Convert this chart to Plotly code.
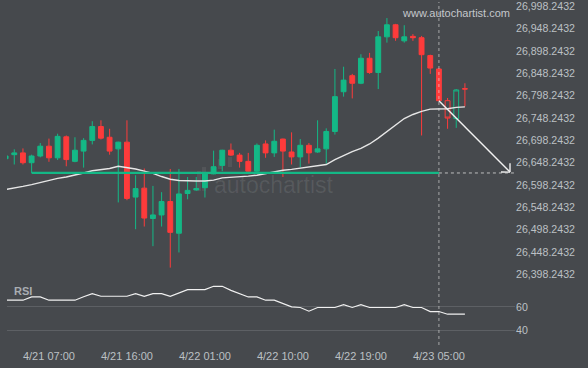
import math
import plotly.graph_objects as go

# ---------------- data (hourly candles, index 0 = 4/21 02:00) ----------------
opens = [26657, 26666, 26670, 26648, 26663, 26685, 26659, 26706, 26651, 26674,
         26698, 26729, 26705, 26679, 26694, 26571, 26591, 26523, 26531, 26561,
         26490, 26579, 26587, 26592, 26623, 26642, 26676, 26665, 26651, 26629,
         26690, 26670, 26701, 26672, 26661, 26687, 26672, 26679, 26718, 26807,
         26843, 26826, 26882, 26850, 26930, 26957, 26921, 26931, 26928, 26888,
         26858]
highs = [26664, 26678, 26680, 26666, 26692, 26702, 26713, 26709, 26705, 26703,
         26741, 26743, 26724, 26695, 26743, 26620, 26635, 26596, 26582, 26634,
         26634, 26616, 26616, 26626, 26675, 26677, 26691, 26670, 26670, 26691,
         26698, 26722, 26702, 26716, 26701, 26692, 26743, 26725, 26858, 26863,
         26847, 26891, 26894, 26943, 26972, 26959, 26956, 26936, 26932, 26890,
         26859]
lows = [26656, 26644, 26644, 26625, 26660, 26650, 26654, 26640, 26649, 26637,
        26689, 26700, 26666, 26559, 26564, 26499, 26505, 26461, 26505, 26413,
        26447, 26566, 26585, 26570, 26622, 26629, 26663, 26637, 26628, 26625,
        26659, 26661, 26616, 26644, 26638, 26646, 26670, 26646, 26711, 26796,
        26792, 26824, 26847, 26813, 26917, 26921, 26917, 26921, 26709, 26847,
        26786]
closes = [26663, 26670, 26648, 26663, 26685, 26659, 26707, 26655, 26676, 26698,
          26729, 26703, 26674, 26694, 26568, 26590, 26524, 26531, 26561, 26492,
          26578, 26586, 26590, 26625, 26639, 26676, 26665, 26651, 26629, 26687,
          26670, 26696, 26674, 26661, 26687, 26670, 26679, 26718, 26796, 26833,
          26826, 26882, 26850, 26930, 26957, 26928, 26930, 26928, 26890, 26860,
          26787]

# candles after the pattern end (drawn hollow)
post_opens = [26787, 26747, 26814]
post_highs = [26793, 26813, 26826]
post_lows = [26724, 26726, 26774]
post_closes = [26748, 26811, 26813]

ma_values = [26588, 26591, 26595, 26599, 26604, 26608, 26613, 26616, 26620, 26625,
             26630, 26633, 26635, 26640, 26637, 26634, 26629, 26624, 26617, 26611,
             26608, 26607, 26607, 26607, 26609, 26614, 26615, 26617, 26618, 26620,
             26624, 26628, 26631, 26633, 26636, 26638, 26641, 26644, 26655, 26664,
             26673, 26680, 26690, 26703, 26718, 26734, 26747, 26756, 26763, 26768,
             26769, 26769, 26772, 26773]

rsi_values = [65.8, 65.8, 65.8, 68.6, 68.6, 65.8, 65.8, 65.8, 65.8, 68.8,
              71.5, 69.2, 69.2, 69.2, 69.2, 71.5, 69.2, 71.5, 71.5, 69.2,
              72.0, 74.9, 74.9, 74.9, 77.8, 77.8, 74.3, 71.3, 68.6, 68.6,
              65.8, 65.8, 62.7, 60.0, 59.5, 56.3, 59.5, 59.5, 59.5, 62.0,
              59.5, 62.0, 59.5, 59.5, 59.5, 59.5, 62.0, 59.5, 59.5, 56.0,
              56.0, 53.7, 53.7, 53.7]

tick_idx = [5, 14, 23, 32, 41, 50]
tick_labels = ["4/21 07:00", "4/21 16:00", "4/22 01:00", "4/22 10:00",
               "4/22 19:00", "4/23 05:00"]
price_tick_vals = [26398.2432, 26448.2432, 26498.2432, 26548.2432, 26598.2432,
                   26648.2432, 26698.2432, 26748.2432, 26798.2432, 26848.2432,
                   26898.2432, 26948.2432, 26998.2432]
price_tick_text = ["26,398.2432", "26,448.2432", "26,498.2432", "26,548.2432",
                   "26,598.2432", "26,648.2432", "26,698.2432", "26,748.2432",
                   "26,798.2432", "26,848.2432", "26,898.2432", "26,948.2432",
                   "26,998.2432"]
rsi_tick_vals = [40, 60]

support_level = 26625
support_start = 3
pattern_end = 50
forecast_x = 58.2
forecast_start_price = 26787
forecast_target = 26627

# ---------------- styling ----------------
W, H = 588, 368
ML, MR, MT, MB = 7, 73, 0, 23
BG = "#46494d"
GREEN = "#14b886"
RED = "#fd3b3b"
TXT = "#bcc0c4"
FONT = "Liberation Sans"

x_range = [0.16, 58.78]
price_range = [26384.4, 27008.0]
rsi_range = [27.1, 81.2]
price_domain = [0.1884, 1.0]
rsi_domain = [0.0, 0.1826]

plot_w = W - ML - MR
plot_h = H - MT - MB
px_per_x = plot_w / (x_range[1] - x_range[0])
px_per_price = plot_h * (price_domain[1] - price_domain[0]) / (price_range[1] - price_range[0])

n = len(opens)
xs = list(range(n))
post_xs = list(range(n, n + len(post_opens)))
all_x = list(range(len(ma_values)))

fig = go.Figure()

fig.add_trace(go.Candlestick(
    x=xs, open=opens, high=highs, low=lows, close=closes,
    increasing=dict(line=dict(color=GREEN, width=1), fillcolor=GREEN),
    decreasing=dict(line=dict(color=RED, width=1), fillcolor=RED),
    whiskerwidth=0, hoverinfo="skip", showlegend=False, xaxis="x", yaxis="y"))

fig.add_trace(go.Candlestick(
    x=post_xs, open=post_opens, high=post_highs, low=post_lows, close=post_closes,
    increasing=dict(line=dict(color=GREEN, width=1), fillcolor="rgba(0,0,0,0)"),
    decreasing=dict(line=dict(color=RED, width=1), fillcolor="rgba(0,0,0,0)"),
    whiskerwidth=0, hoverinfo="skip", showlegend=False, xaxis="x", yaxis="y"))

fig.add_trace(go.Scatter(
    x=all_x, y=ma_values, mode="lines",
    line=dict(color="#e6e6e6", width=1.4), hoverinfo="skip", showlegend=False,
    xaxis="x", yaxis="y"))

# forecast arrow (line + open V head)
ax0, ay0 = pattern_end, forecast_start_price
ax1, ay1 = forecast_x, forecast_target
dxp = (ax1 - ax0) * px_per_x
dyp = -(ay1 - ay0) * px_per_price
ang = math.atan2(dyp, dxp)
arm = 9
arrow_x = [ax0, ax1]
arrow_y = [ay0, ay1]
for s in (1, -1):
    a = ang + math.pi + s * math.pi / 4
    arrow_x += [None, ax1, ax1 + arm * math.cos(a) / px_per_x]
    arrow_y += [None, ay1, ay1 - arm * math.sin(a) / px_per_price]
fig.add_trace(go.Scatter(
    x=arrow_x, y=arrow_y, mode="lines", line=dict(color="#f2f2f2", width=1.4),
    hoverinfo="skip", showlegend=False, xaxis="x", yaxis="y"))

fig.add_trace(go.Scatter(
    x=all_x, y=rsi_values, mode="lines",
    line=dict(color="#f0f0f0", width=1.2), hoverinfo="skip", showlegend=False,
    xaxis="x", yaxis="y2"))

shapes = [
    dict(type="line", xref="x", yref="y", x0=support_start, x1=pattern_end,
         y0=support_level, y1=support_level, line=dict(color=GREEN, width=2.2)),
    dict(type="line", xref="x", yref="y", x0=pattern_end, x1=x_range[1],
         y0=support_level, y1=support_level,
         line=dict(color="rgba(230,230,230,0.75)", width=1, dash="3px,3px")),
    dict(type="line", xref="x", yref="paper", x0=pattern_end, x1=pattern_end,
         y0=0, y1=1, line=dict(color="rgba(230,230,230,0.6)", width=1, dash="3px,3px")),
]


def px2paper(px, py):
    return (px - ML) / plot_w, 1 - (py - MT) / plot_h


# faint watermark icon bars
for (bx0, by0, bx1, by1) in [(197, 170, 201, 190), (202, 166, 206, 190),
                              (218, 158, 222, 168), (228, 156, 232, 166)]:
    p0 = px2paper(bx0, by1)
    p1 = px2paper(bx1, by0)
    shapes.append(dict(type="rect", xref="paper", yref="paper",
                       x0=p0[0], y0=p0[1], x1=p1[0], y1=p1[1],
                       line=dict(width=0), fillcolor="rgba(255,255,255,0.07)",
                       layer="below"))

wm = px2paper(274, 184)
rsi_lab = px2paper(23, 291)
www = px2paper(456, 11)

annotations = [
    dict(text="autochartist", xref="paper", yref="paper", x=wm[0], y=wm[1],
         xanchor="center", yanchor="middle", showarrow=False,
         font=dict(family=FONT, size=23, color="rgba(255,255,255,0.09)")),
    dict(text="<b>RSI</b>", xref="paper", yref="paper", x=rsi_lab[0], y=rsi_lab[1],
         xanchor="center", yanchor="middle", showarrow=False,
         font=dict(family=FONT, size=11, color="#a9adb2")),
    dict(text="www.autochartist.com", xref="paper", yref="paper", x=www[0], y=www[1],
         xanchor="center", yanchor="middle", showarrow=False,
         font=dict(family=FONT, size=11, color="#c4c7cb")),
]

fig.update_layout(
    width=W, height=H,
    margin=dict(l=ML, r=MR, t=MT, b=MB),
    paper_bgcolor=BG, plot_bgcolor=BG,
    font=dict(family=FONT, size=11, color=TXT),
    boxgap=0.2,
    showlegend=False,
    shapes=shapes, annotations=annotations,
    xaxis=dict(range=x_range, anchor="y2", tickvals=tick_idx, ticktext=tick_labels,
               showgrid=False, zeroline=False, showline=False, ticks="",
               ticklabelstandoff=3,
               rangeslider=dict(visible=False), fixedrange=True,
               tickfont=dict(family=FONT, size=11, color=TXT)),
    yaxis=dict(domain=price_domain, range=price_range, side="right",
               tickvals=price_tick_vals, ticktext=price_tick_text,
               ticklabeloverflow="allow",
               showgrid=False, zeroline=False, showline=False, ticks="",
               tickfont=dict(family=FONT, size=10.6, color=TXT)),
    yaxis2=dict(domain=rsi_domain, range=rsi_range, side="right",
                tickvals=rsi_tick_vals, showgrid=True, gridcolor="#5d6064", gridwidth=1,
                zeroline=False, showline=False, ticks="",
                tickfont=dict(family=FONT, size=10.6, color=TXT)),
)

fig.write_html("out.html", config=dict(displayModeBar=False),
               post_script="document.body.style.margin='0';document.body.style.overflow='hidden';")
